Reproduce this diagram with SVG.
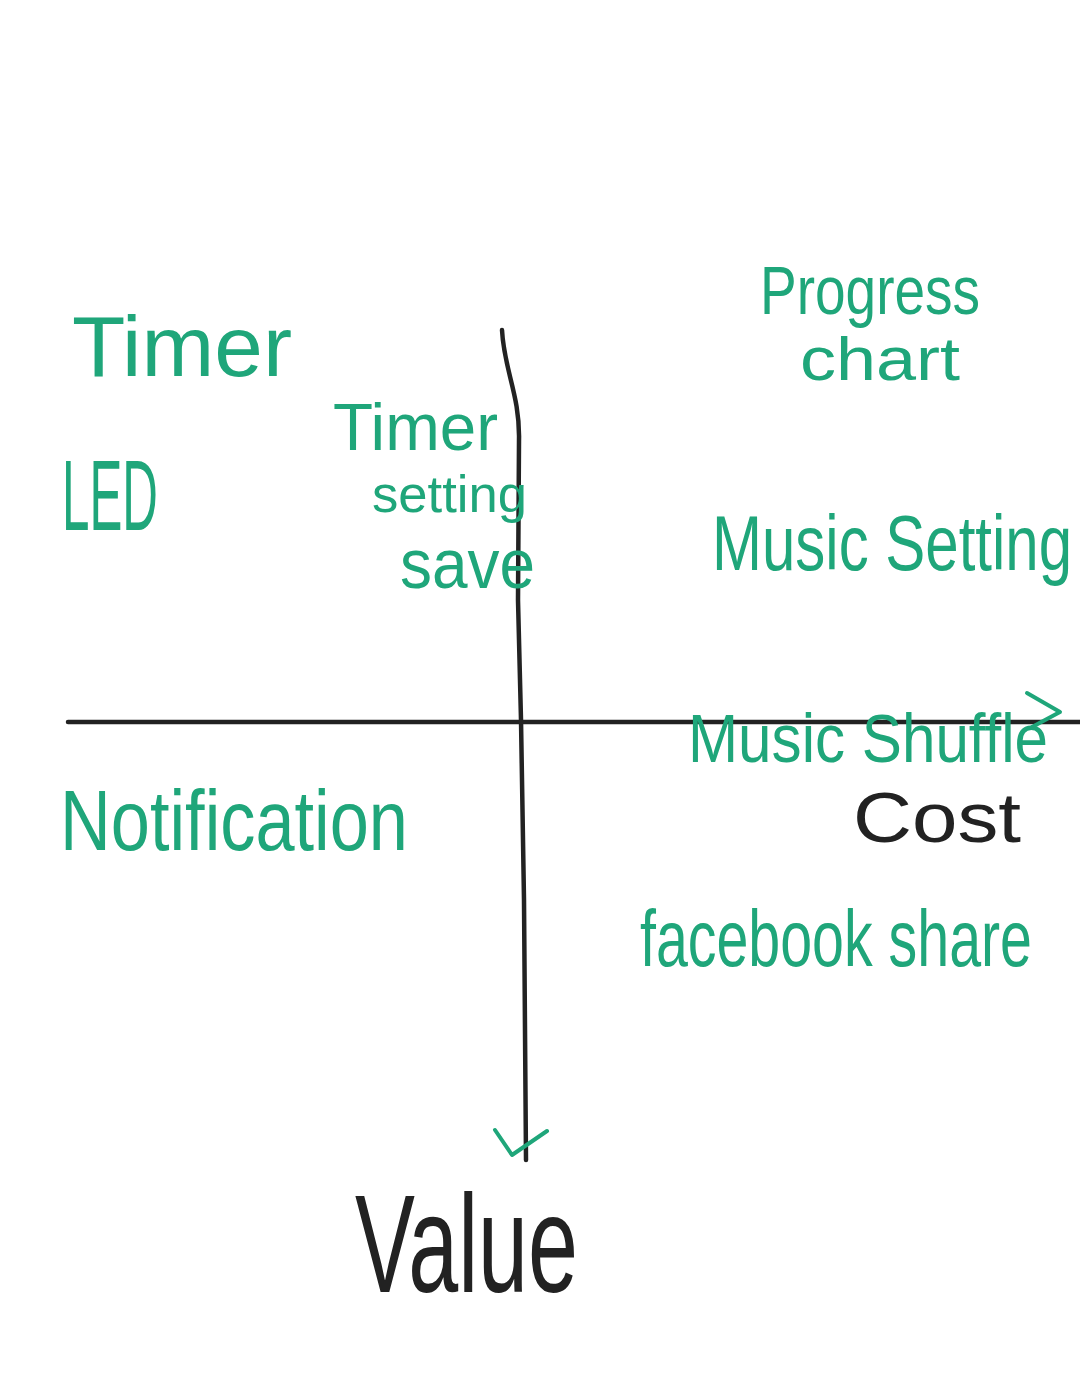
<svg xmlns="http://www.w3.org/2000/svg" width="1080" height="1397" viewBox="0 0 1080 1397">
<style>
.g{fill:#1fa67a;font-family:"Liberation Sans","DejaVu Sans",sans-serif;}
.k{fill:#222222;font-family:"Liberation Sans","DejaVu Sans",sans-serif;}
.axis{fill:none;stroke:#222222;stroke-width:4.5;stroke-linecap:round;stroke-linejoin:round;}
.head{fill:none;stroke:#1fa67a;stroke-width:4;stroke-linecap:round;stroke-linejoin:round;}
</style>
<rect width="1080" height="1397" fill="#ffffff"/>
<g id="connectors">
<path class="axis" d="M502,330 C504,370 520,395 519,440 L518,600 L521,720 L524,900 L526,1160"/>
<path class="axis" d="M68,722 L1080,722"/>
<polyline class="head" points="1027,693 1060,712 1032,727"/>
<polyline class="head" points="495,1130 512,1155 547,1131"/>
</g>
<g id="timer"><text class="g" x="72" y="376" font-size="86" textLength="220" lengthAdjust="spacingAndGlyphs">Timer</text></g>
<g id="led"><text class="g" x="62" y="530" font-size="100" textLength="96" lengthAdjust="spacingAndGlyphs">LED</text></g>
<g id="timer-setting-save">
<text class="g" x="333" y="450" font-size="66" textLength="165" lengthAdjust="spacingAndGlyphs">Timer</text>
<text class="g" x="372" y="512" font-size="52" textLength="155" lengthAdjust="spacingAndGlyphs">setting</text>
<text class="g" x="400" y="588" font-size="70" textLength="135" lengthAdjust="spacingAndGlyphs">save</text>
</g>
<g id="progress-chart">
<text class="g" x="760" y="314" font-size="68" textLength="220" lengthAdjust="spacingAndGlyphs">Progress</text>
<text class="g" x="800" y="380" font-size="62" textLength="160" lengthAdjust="spacingAndGlyphs">chart</text>
</g>
<g id="music-setting"><text class="g" transform="translate(712,570) scale(1,1.3)" x="0" y="0" font-size="60" textLength="360" lengthAdjust="spacingAndGlyphs">Music Setting</text></g>
<g id="music-shuffle"><text class="g" transform="translate(688,762) scale(1,1.15)" x="0" y="0" font-size="60" textLength="360" lengthAdjust="spacingAndGlyphs">Music Shuffle</text></g>
<g id="cost"><text class="k" x="853" y="842" font-size="70" textLength="168" lengthAdjust="spacingAndGlyphs">Cost</text></g>
<g id="notification"><text class="g" x="60" y="850" font-size="85" textLength="348" lengthAdjust="spacingAndGlyphs">Notification</text></g>
<g id="facebook-share"><text class="g" transform="translate(640,966) scale(1,1.4)" x="0" y="0" font-size="57" textLength="392" lengthAdjust="spacingAndGlyphs">facebook share</text></g>
<g id="value"><text class="k" x="355" y="1292" font-size="140" textLength="223" lengthAdjust="spacingAndGlyphs">Value</text></g>
</svg>
